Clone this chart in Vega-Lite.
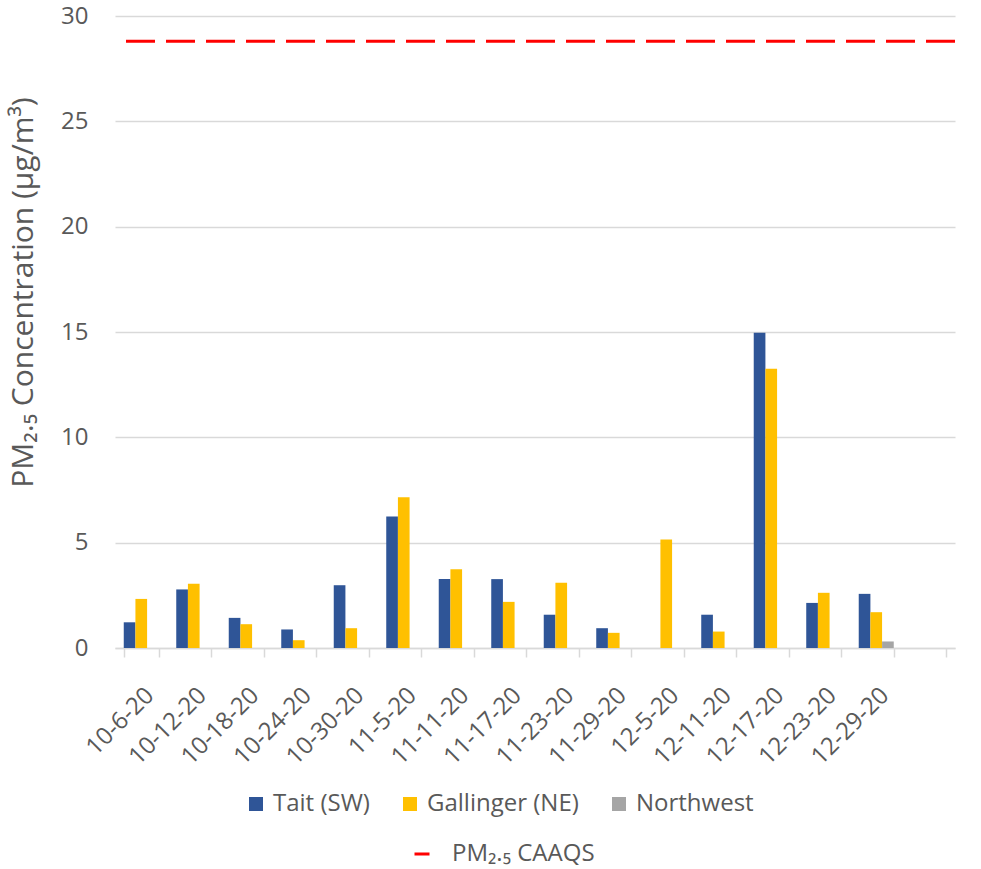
{
  "$schema": "https://vega.github.io/schema/vega-lite/v6.json",
  "width": 840,
  "height": 632,
  "autosize": {"type": "none"},
  "padding": {"left": 115, "top": 16, "right": 26, "bottom": 221},
  "background": "white",
  "config": {
    "font": "Open Sans",
    "view": {"stroke": null},
    "axis": {"labelColor": "#595959", "titleColor": "#595959", "labelFont": "Open Sans", "titleFont": "Open Sans"}
  },
  "datasets": {
    "pm": [
      {"date": "10-6-20", "station": "Tait (SW)", "value": 1.22},
      {"date": "10-6-20", "station": "Gallinger (NE)", "value": 2.33},
      {"date": "10-12-20", "station": "Tait (SW)", "value": 2.78},
      {"date": "10-12-20", "station": "Gallinger (NE)", "value": 3.05},
      {"date": "10-18-20", "station": "Tait (SW)", "value": 1.43},
      {"date": "10-18-20", "station": "Gallinger (NE)", "value": 1.13},
      {"date": "10-24-20", "station": "Tait (SW)", "value": 0.88},
      {"date": "10-24-20", "station": "Gallinger (NE)", "value": 0.37},
      {"date": "10-30-20", "station": "Tait (SW)", "value": 2.98},
      {"date": "10-30-20", "station": "Gallinger (NE)", "value": 0.94},
      {"date": "11-5-20", "station": "Tait (SW)", "value": 6.24},
      {"date": "11-5-20", "station": "Gallinger (NE)", "value": 7.15},
      {"date": "11-11-20", "station": "Tait (SW)", "value": 3.27},
      {"date": "11-11-20", "station": "Gallinger (NE)", "value": 3.74},
      {"date": "11-17-20", "station": "Tait (SW)", "value": 3.27},
      {"date": "11-17-20", "station": "Gallinger (NE)", "value": 2.19},
      {"date": "11-23-20", "station": "Tait (SW)", "value": 1.58},
      {"date": "11-23-20", "station": "Gallinger (NE)", "value": 3.1},
      {"date": "11-29-20", "station": "Tait (SW)", "value": 0.94},
      {"date": "11-29-20", "station": "Gallinger (NE)", "value": 0.72},
      {"date": "12-5-20", "station": "Gallinger (NE)", "value": 5.15},
      {"date": "12-11-20", "station": "Tait (SW)", "value": 1.58},
      {"date": "12-11-20", "station": "Gallinger (NE)", "value": 0.78},
      {"date": "12-17-20", "station": "Tait (SW)", "value": 14.96},
      {"date": "12-17-20", "station": "Gallinger (NE)", "value": 13.25},
      {"date": "12-23-20", "station": "Tait (SW)", "value": 2.14},
      {"date": "12-23-20", "station": "Gallinger (NE)", "value": 2.62},
      {"date": "12-29-20", "station": "Tait (SW)", "value": 2.57},
      {"date": "12-29-20", "station": "Gallinger (NE)", "value": 1.7},
      {"date": "12-29-20", "station": "Northwest", "value": 0.31}
    ],
    "std": [
      {"level": 28.8, "name": "PM₂.₅ CAAQS"}
    ]
  },
  "layer": [
    {
      "data": {"name": "pm"},
      "mark": {"type": "bar"},
      "encoding": {
        "x": {
          "field": "date",
          "type": "nominal",
          "sort": null,
          "scale": {
            "domain": ["10-6-20", "10-12-20", "10-18-20", "10-24-20", "10-30-20", "11-5-20", "11-11-20", "11-17-20", "11-23-20", "11-29-20", "12-5-20", "12-11-20", "12-17-20", "12-23-20", "12-29-20", " "],
            "paddingInner": 0.333,
            "paddingOuter": 0.1667
          },
          "axis": {
            "title": null,
            "labelAngle": -45,
            "labelFontSize": 24,
            "labelPadding": 26,
            "labelOverlap": false,
            "tickBand": "extent",
            "tickColor": "#D9D9D9",
            "tickWidth": 1.5,
            "tickSize": 9,
            "domainColor": "#D9D9D9",
            "domainWidth": 1.5,
            "grid": false
          }
        },
        "xOffset": {
          "field": "station",
          "type": "nominal",
          "scale": {"domain": ["Tait (SW)", "Gallinger (NE)", "Northwest"], "paddingInner": 0, "paddingOuter": 0}
        },
        "y": {
          "field": "value",
          "type": "quantitative",
          "scale": {"domain": [0, 30], "nice": false},
          "axis": {
            "title": "PM₂.₅ Concentration (µg/m³)",
            "titleFontSize": 30,
            "titleFontWeight": "normal",
            "titlePadding": 22,
            "titleY": 276,
            "values": [0, 5, 10, 15, 20, 25, 30],
            "labelFontSize": 24,
            "labelPadding": 27,
            "domain": false,
            "ticks": false,
            "gridColor": "#D9D9D9",
            "gridWidth": 1.5
          }
        },
        "color": {
          "field": "station",
          "type": "nominal",
          "scale": {"domain": ["Tait (SW)", "Gallinger (NE)", "Northwest"], "range": ["#2F5597", "#FFC000", "#A5A5A5"]},
          "legend": {
            "title": null,
            "orient": "none",
            "legendX": 129,
            "legendY": 776,
            "direction": "horizontal",
            "symbolType": "square",
            "symbolSize": 196,
            "labelFontSize": 24,
            "labelColor": "#595959",
            "columnPadding": 28,
            "labelOffset": 5
          }
        }
      }
    },
    {
      "data": {"name": "std"},
      "mark": {"type": "rule", "strokeDash": [29, 11], "strokeWidth": 3},
      "encoding": {
        "y": {"field": "level", "type": "quantitative"},
        "stroke": {
          "field": "name",
          "type": "nominal",
          "scale": {"range": ["#FF0000"]},
          "legend": {
            "title": null,
            "orient": "none",
            "legendX": 295,
            "legendY": 826,
            "symbolType": "stroke",
            "symbolSize": 225,
            "symbolStrokeWidth": 3,
            "symbolDash": [1, 0],
            "labelFontSize": 24,
            "labelColor": "#595959",
            "labelOffset": 18
          }
        }
      }
    }
  ]
}
